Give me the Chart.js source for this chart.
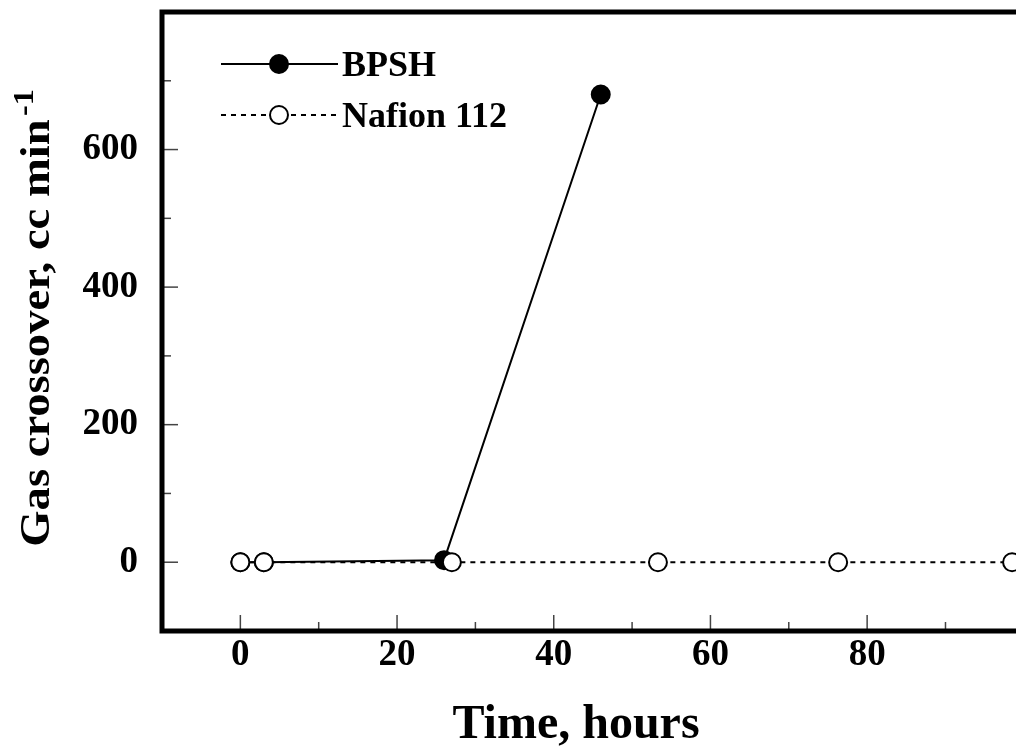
<!DOCTYPE html>
<html>
<head>
<meta charset="UTF-8">
<title>Gas crossover</title>
<script src="https://cdn.jsdelivr.net/npm/chart.js@4.4.1/dist/chart.umd.min.js"></script>
<style>
  html, body { margin: 0; padding: 0; background: #fff; overflow: hidden; }
  #wrap { width: 1016px; height: 746px; overflow: hidden; }
</style>
</head>
<body>
<!-- el lienzo es algo mas ancho: el borde derecho del grafico queda recortado como en la figura -->
<div id="wrap"><canvas id="chart" width="1027" height="746"></canvas></div>
<script>
// datos
const horasBPSH = [0, 3, 26, 46];
const gasBPSH = [0, 0, 3, 680];
const horasNafion = [0, 3, 27, 53.3, 76.3, 98.5];
const gasNafion = [0, 0, 0, 0, 0, 0];
const xEtiquetas = [0, 20, 40, 60, 80];
const yEtiquetas = [0, 200, 400, 600];

const serie = (xs, ys) => xs.map((x, i) => ({ x: x, y: ys[i] }));

Chart.defaults.font.family = "'Liberation Serif', 'Times New Roman', serif";
Chart.defaults.color = '#000';

// marco, ticks hacia dentro, leyenda y titulos de ejes
const marco = {
  id: 'marco',
  afterDatasetsDraw(chart) {
    const { ctx, chartArea: a, scales: { x, y } } = chart;
    ctx.save();

    // ticks interiores
    ctx.strokeStyle = '#444';
    ctx.lineWidth = 1.5;
    x.ticks.forEach(t => {
      const v = t.value;
      if (v % 10 !== 0 || v <= x.min || v >= x.max) return;
      const px = x.getPixelForValue(v);
      const len = v % 20 === 0 ? 16 : 9;
      ctx.beginPath(); ctx.moveTo(px, a.bottom); ctx.lineTo(px, a.bottom - len); ctx.stroke();
    });
    y.ticks.forEach(t => {
      const v = t.value;
      if (v % 100 !== 0 || v <= y.min || v >= y.max) return;
      const py = y.getPixelForValue(v);
      const len = v % 200 === 0 ? 16 : 9;
      ctx.beginPath(); ctx.moveTo(a.left, py); ctx.lineTo(a.left + len, py); ctx.stroke();
    });

    // bordes (el derecho queda fuera de la imagen)
    ctx.strokeStyle = '#000';
    ctx.lineWidth = 5;
    ctx.beginPath();
    ctx.moveTo(a.right + 12, a.top);
    ctx.lineTo(a.left, a.top);
    ctx.lineTo(a.left, a.bottom);
    ctx.lineTo(a.right + 12, a.bottom);
    ctx.stroke();

    // leyenda
    const filas = [64, 115];
    chart.data.datasets.forEach((ds, i) => {
      const fy = filas[i];
      ctx.strokeStyle = '#000';
      ctx.lineWidth = 2;
      ctx.setLineDash(ds.borderDash || []);
      ctx.beginPath(); ctx.moveTo(221, fy); ctx.lineTo(338, fy); ctx.stroke();
      ctx.setLineDash([]);
      ctx.beginPath();
      ctx.arc(279, fy, 9, 0, Math.PI * 2);
      ctx.fillStyle = ds.pointBackgroundColor;
      ctx.fill();
      ctx.lineWidth = 2;
      ctx.stroke();
      ctx.fillStyle = '#000';
      ctx.font = "bold 36px 'Liberation Serif'";
      ctx.textAlign = 'left';
      ctx.textBaseline = 'alphabetic';
      ctx.fillText(ds.label, 342, fy + 12);
    });

    // titulo eje x
    ctx.font = "bold 48px 'Liberation Serif'";
    ctx.textAlign = 'center';
    ctx.fillText('Time, hours', 576, 738);

    // titulo eje y con superindice
    ctx.translate(49, 318);
    ctx.rotate(-Math.PI / 2);
    ctx.scale(1.11, 1);
    ctx.textAlign = 'left';
    ctx.font = "bold 42px 'Liberation Serif'";
    const principal = 'Gas crossover, cc min';
    const w = ctx.measureText(principal).width;
    const x0 = -206;
    ctx.fillText(principal, x0, 0);
    ctx.font = "bold 29px 'Liberation Serif'";
    ctx.fillText('-1', x0 + w + 3, -16);

    ctx.restore();
  }
};

new Chart(document.getElementById('chart').getContext('2d'), {
  type: 'line',
  data: {
    datasets: [
      {
        label: 'BPSH',
        data: serie(horasBPSH, gasBPSH),
        borderColor: '#000',
        borderWidth: 2,
        pointRadius: 9,
        pointBorderWidth: 2,
        pointBackgroundColor: '#000',
        pointBorderColor: '#000',
        tension: 0,
        clip: false,
        order: 1
      },
      {
        label: 'Nafion 112',
        data: serie(horasNafion, gasNafion),
        borderColor: '#000',
        borderWidth: 2,
        borderDash: [5, 5],
        pointRadius: 9,
        pointBorderWidth: 2,
        pointBackgroundColor: '#fff',
        pointBorderColor: '#000',
        tension: 0,
        clip: false,
        order: 0
      }
    ]
  },
  options: {
    responsive: false,
    animation: false,
    events: [],
    layout: { padding: { top: 12, right: 0, left: 0, bottom: 0 } },
    plugins: {
      legend: { display: false },
      tooltip: { enabled: false }
    },
    scales: {
      x: {
        type: 'linear',
        min: -10,
        max: 99,
        grid: { display: false, drawTicks: false },
        border: { display: false },
        ticks: {
          stepSize: 10,
          autoSkip: false,
          maxRotation: 0,
          padding: 2,
          font: { size: 37, weight: 'bold' },
          color: '#000',
          callback: v => xEtiquetas.includes(v) ? String(v) : ''
        },
        afterFit: s => { s.height = 115; s.paddingLeft = 0; s.paddingRight = 0; }
      },
      y: {
        type: 'linear',
        min: -100,
        max: 800,
        grid: { display: false, drawTicks: false },
        border: { display: false },
        ticks: {
          stepSize: 100,
          autoSkip: false,
          padding: 24,
          font: { size: 37, weight: 'bold' },
          color: '#000',
          callback: v => yEtiquetas.includes(v) ? String(v) : ''
        },
        afterFit: s => { s.width = 162; s.paddingTop = 0; s.paddingBottom = 0; }
      }
    }
  },
  plugins: [marco]
});
</script>
</body>
</html>
